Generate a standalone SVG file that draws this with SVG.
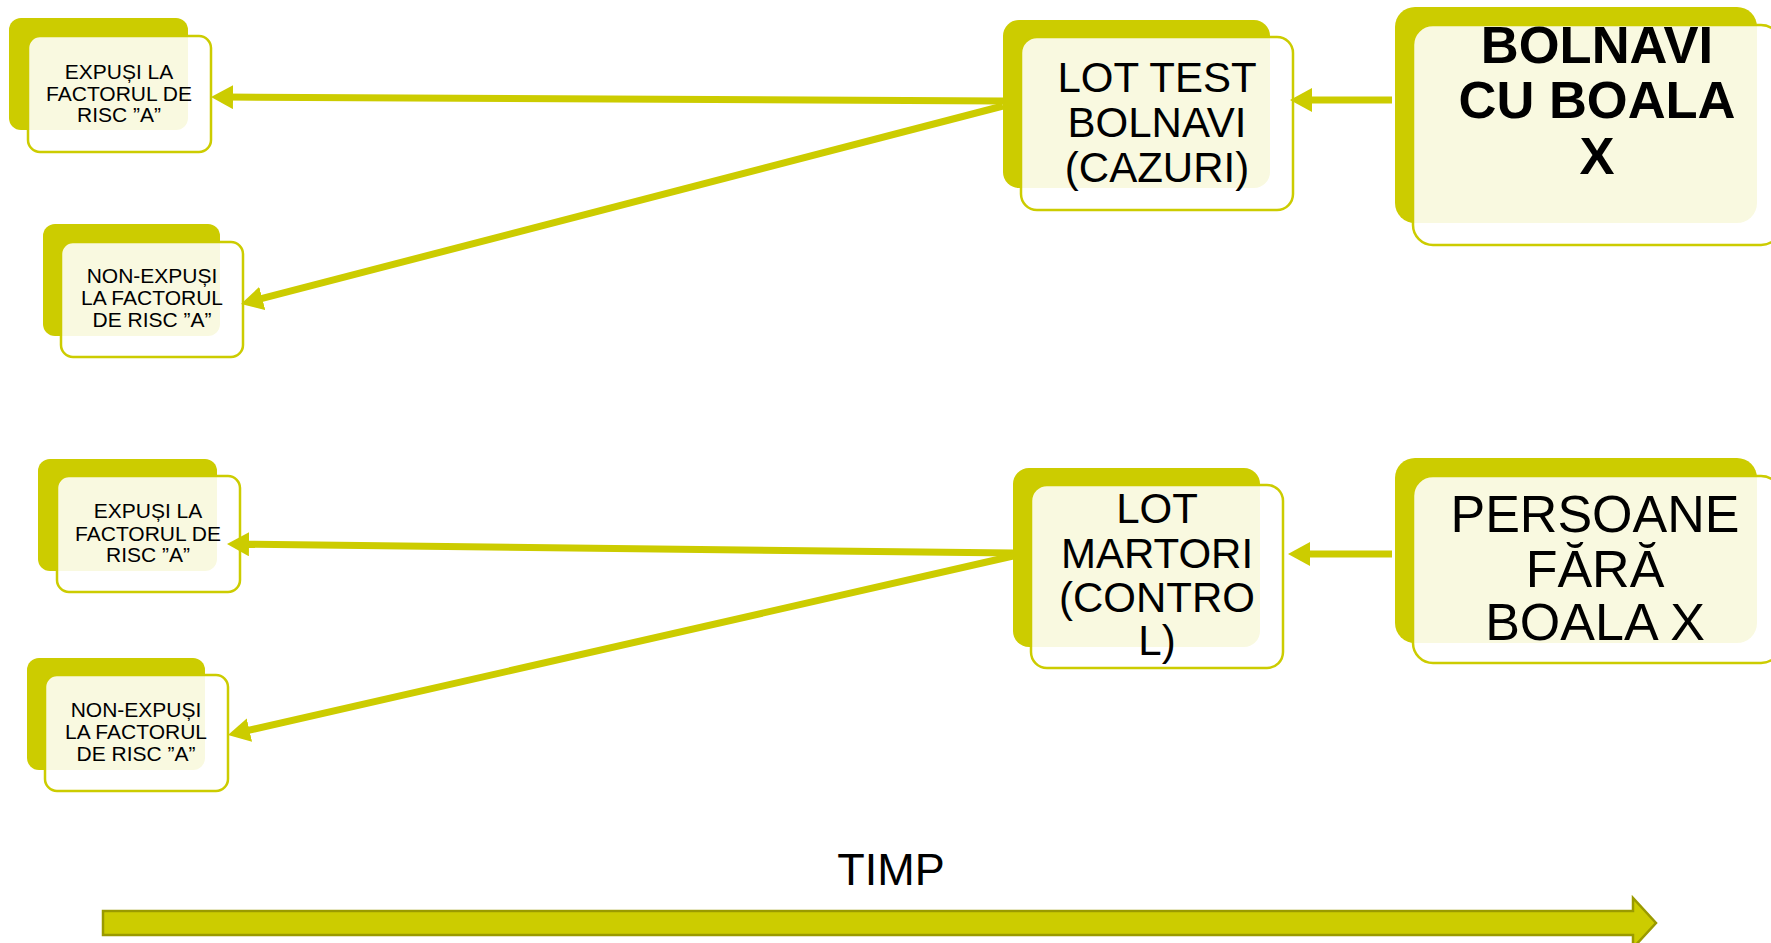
<svg xmlns="http://www.w3.org/2000/svg" width="1771" height="943" viewBox="0 0 1771 943">
<defs>
<style>
.back{fill:#cccc00;}
.front{fill:#ffffff;fill-opacity:0.88;stroke:#cccc00;stroke-width:2.5;}
.sm{font-family:"Liberation Sans",Arial,sans-serif;font-size:21px;fill:#000;text-anchor:middle;}
.md{font-family:"Liberation Sans",Arial,sans-serif;font-size:42px;fill:#000;text-anchor:middle;}
.lg{font-family:"Liberation Sans",Arial,sans-serif;font-size:52px;fill:#000;text-anchor:middle;}
.lgb{font-family:"Liberation Sans",Arial,sans-serif;font-size:52.5px;font-weight:bold;fill:#000;text-anchor:middle;}
.conn{stroke:#cccc00;stroke-width:7;fill:none;marker-end:url(#ah);}
</style>
<marker id="ah" markerWidth="22" markerHeight="24" viewBox="0 0 22 24" refX="7" refY="12" orient="auto" markerUnits="userSpaceOnUse">
<path d="M0,0 L22,12 L0,24 z" fill="#cccc00"/>
</marker>
</defs>
<rect width="1771" height="943" fill="#ffffff"/>

<g id="expusi-top">
<rect class="back" x="9" y="18" width="179" height="112" rx="12"/>
<rect class="front" x="28" y="36" width="183" height="116" rx="12"/>
<text class="sm" x="119" y="79">EXPUȘI LA</text>
<text class="sm" x="119" y="101">FACTORUL DE</text>
<text class="sm" x="119" y="122">RISC ”A”</text>
</g>

<g id="nonexpusi-top">
<rect class="back" x="43" y="224" width="177" height="112" rx="12"/>
<rect class="front" x="61" y="242" width="182" height="115" rx="12"/>
<text class="sm" x="152" y="283">NON-EXPUȘI</text>
<text class="sm" x="152" y="305">LA FACTORUL</text>
<text class="sm" x="152" y="327">DE RISC ”A”</text>
</g>

<g id="expusi-bottom">
<rect class="back" x="38" y="459" width="179" height="112" rx="12"/>
<rect class="front" x="57" y="476" width="183" height="116" rx="12"/>
<text class="sm" x="148" y="518">EXPUȘI LA</text>
<text class="sm" x="148" y="541">FACTORUL DE</text>
<text class="sm" x="148" y="562">RISC ”A”</text>
</g>

<g id="nonexpusi-bottom">
<rect class="back" x="27" y="658" width="178" height="112" rx="12"/>
<rect class="front" x="45" y="675" width="183" height="116" rx="12"/>
<text class="sm" x="136" y="717">NON-EXPUȘI</text>
<text class="sm" x="136" y="739">LA FACTORUL</text>
<text class="sm" x="136" y="761">DE RISC ”A”</text>
</g>

<g id="lot-test">
<rect class="back" x="1003" y="20" width="267" height="168" rx="16"/>
<rect class="front" x="1021" y="37" width="272" height="173" rx="16"/>
<text class="md" x="1157" y="92">LOT TEST</text>
<text class="md" x="1157" y="137">BOLNAVI</text>
<text class="md" x="1157" y="182">(CAZURI)</text>
</g>

<g id="lot-martori">
<rect class="back" x="1013" y="468" width="247" height="179" rx="16"/>
<rect class="front" x="1031" y="485" width="252" height="183" rx="16"/>
<text class="md" x="1157" y="523">LOT</text>
<text class="md" x="1157" y="568">MARTORI</text>
<text class="md" x="1157" y="612">(CONTRO</text>
<text class="md" x="1157" y="655">L)</text>
</g>

<g id="bolnavi">
<rect class="back" x="1395" y="7" width="362" height="216" rx="20"/>
<rect class="front" x="1413" y="25" width="368" height="220" rx="20"/>
<text class="lgb" x="1597" y="63">BOLNAVI</text>
<text class="lgb" x="1597" y="118">CU BOALA</text>
<text class="lgb" x="1597" y="174">X</text>
</g>

<g id="persoane">
<rect class="back" x="1395" y="458" width="362" height="185" rx="20"/>
<rect class="front" x="1413" y="476" width="368" height="187" rx="20"/>
<text class="lg" x="1595" y="532">PERSOANE</text>
<text class="lg" x="1595" y="587">FĂRĂ</text>
<text class="lg" x="1595" y="640">BOALA X</text>
</g>

<g id="connectors">
<line class="conn" x1="1003" y1="101" x2="226" y2="97.1"/>
<line class="conn" x1="1003" y1="106" x2="255.5" y2="300.2"/>
<line class="conn" x1="1013" y1="553" x2="242" y2="544.2"/>
<line class="conn" x1="1013" y1="556" x2="242.6" y2="731.7"/>
<line class="conn" x1="1392" y1="100" x2="1305" y2="100"/>
<line class="conn" x1="1392" y1="554" x2="1303" y2="554"/>
</g>

<g id="timp">
<polygon points="103,911 1633,911 1633,898 1656,923 1633,948 1633,935 103,935" fill="#cccc00" stroke="#9a9a00" stroke-width="2.5"/>
<text class="md" x="891" y="885" style="font-size:45px">TIMP</text>
</g>
</svg>
